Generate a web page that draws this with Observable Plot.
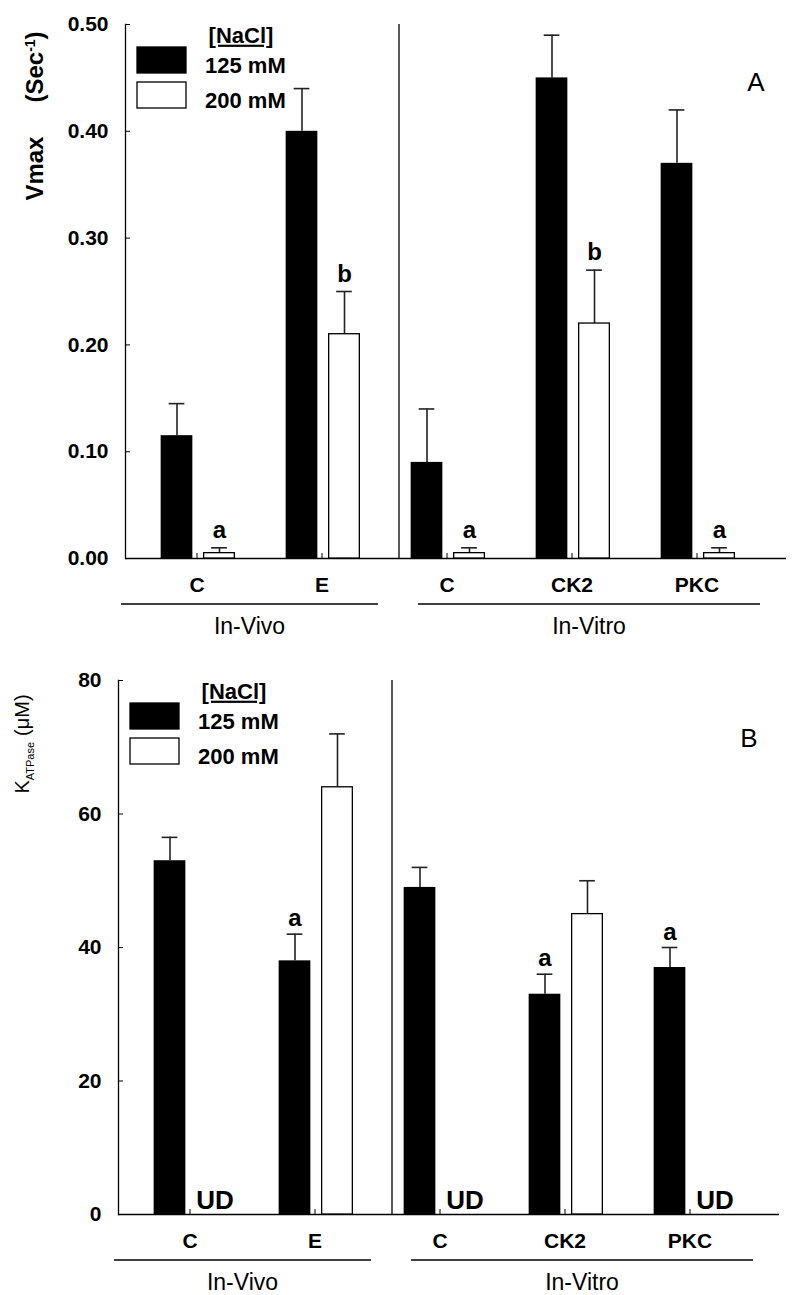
<!DOCTYPE html>
<html>
<head>
<meta charset="utf-8">
<script src="https://cdn.jsdelivr.net/npm/d3@7"></script>
<script src="https://cdn.jsdelivr.net/npm/@observablehq/plot@0.6"></script>
<style>
  html, body { margin: 0; padding: 0; background: #fff; }
  #chart { width: 800px; }
  #chart svg { display: block; }
</style>
</head>
<body>
<div id="chart"></div>
<script>
// ---------- data ----------
const categoryIds    = ["InVivo-C", "InVivo-E", "InVitro-C", "InVitro-CK2", "InVitro-PKC"];
const categoryLabels = ["C", "E", "C", "CK2", "PKC"];
const groupNames     = ["In-Vivo", "In-Vitro"];
const legendTitle    = "[NaCl]";
const legendLabels   = ["125 mM", "200 mM"];

// Panel A: Vmax (Sec-1)
const vmaxTicks     = [0, 0.1, 0.2, 0.3, 0.4, 0.5];
const vmax125       = [0.115, 0.40, 0.09, 0.45, 0.37];
const vmax125Err    = [0.03, 0.04, 0.05, 0.04, 0.05];
const vmax125Marks  = ["", "", "", "", ""];
const vmax200       = [0.005, 0.21, 0.005, 0.22, 0.005];
const vmax200Err    = [0.005, 0.04, 0.005, 0.05, 0.005];
const vmax200Marks  = ["a", "b", "a", "b", "a"];

// Panel B: K ATPase (µM)
const kTicks        = [0, 20, 40, 60, 80];
const k125          = [53, 38, 49, 33, 37];
const k125Err       = [3.5, 4, 3, 3, 3];
const k125Marks     = ["", "a", "", "a", "a"];
const k200          = [null, 64, null, 45, null];
const k200Err       = [null, 8, null, 5, null];
const k200Marks     = ["UD", "", "UD", "", "UD"];

// ---------- helpers ----------
const FONT = "'Liberation Sans', Arial, Helvetica, sans-serif";
const labelOf = new Map(categoryIds.map((id, i) => [id, categoryLabels[i]]));
const rowsOf = (vals, errs, marks) =>
  categoryIds.map((id, i) => ({id, value: vals[i], err: errs[i], mark: marks[i]}));

function panel(cfg) {
  const {height, mt, mb, ml, mr, xRange, yDomain, yTicks, yFormat, rows125, rows200, letter, yLabel} = cfg;
  const band = (xRange[1] - xRange[0]) / categoryIds.length;
  const h = band / 2;
  const blackBar = {insetLeft: h - 36, insetRight: h + 4};
  const whiteBar = {insetLeft: h + 7, insetRight: h - 38};
  const blackCap = {insetLeft: h - 28, insetRight: h + 12};
  const whiteCap = {insetLeft: h + 14.5, insetRight: h - 30.5};
  const bars200 = rows200.filter(d => d.value != null);
  const ud = rows200.filter(d => d.value == null && d.mark);
  const errStyle = {stroke: "#222", strokeWidth: 1.6};

  const chart = Plot.plot({
    width: 800, height,
    marginTop: mt, marginBottom: mb, marginLeft: ml, marginRight: mr,
    style: {fontFamily: FONT, color: "black", background: "white", overflow: "visible"},
    x: {type: "band", domain: categoryIds, range: xRange, padding: 0, axis: null},
    y: {domain: yDomain, axis: null},
    marks: [
      // axes
      Plot.axisY({ticks: yTicks, tickFormat: yFormat, tickSize: 0, tickPadding: 17,
                  fontSize: 21, fontWeight: "bold", label: null}),
      Plot.axisY({ticks: yTicks, tickFormat: () => "", tickSize: 5, dx: 5, label: null}),
      Plot.axisX({tickFormat: id => labelOf.get(id), tickSize: 0, tickPadding: 19,
                  fontSize: 21, fontWeight: "bold", label: null}),
      Plot.axisX({tickFormat: () => "", tickSize: 5, dy: -5, label: null}),
      Plot.frame({anchor: "left", stroke: "black", strokeWidth: 1.3}),
      Plot.ruleY([0], {stroke: "black", strokeWidth: 1.5}),
      // divider between In-Vivo and In-Vitro
      Plot.ruleX([categoryIds[2]], {dx: -48, stroke: "black", strokeWidth: 1.3}),
      // error bars (upper only)
      Plot.ruleX(rows125, {x: "id", y1: "value", y2: d => d.value + d.err, dx: -20, ...errStyle}),
      Plot.tickY(rows125, {x: "id", y: d => d.value + d.err, ...blackCap, ...errStyle}),
      Plot.ruleX(bars200, {x: "id", y1: "value", y2: d => d.value + d.err, dx: 22.5, ...errStyle}),
      Plot.tickY(bars200, {x: "id", y: d => d.value + d.err, ...whiteCap, ...errStyle}),
      // bars
      Plot.barY(rows125, {x: "id", y: "value", fill: "black", ...blackBar}),
      Plot.barY(bars200, {x: "id", y: "value", fill: "white", stroke: "black", strokeWidth: 1.3, ...whiteBar}),
      // significance letters
      Plot.text(rows125.filter(d => d.mark), {x: "id", y: d => d.value + d.err, text: "mark",
        dx: -20, dy: -8, lineAnchor: "bottom", fontSize: 24, fontWeight: "bold"}),
      Plot.text(bars200.filter(d => d.mark), {x: "id", y: d => d.value + d.err, text: "mark",
        dx: 22.5, dy: -10, lineAnchor: "bottom", fontSize: 24, fontWeight: "bold"}),
      Plot.text(ud, {x: "id", y: 0, text: "mark", dx: 25, dy: -6, lineAnchor: "bottom",
        fontSize: 26, fontWeight: "bold"})
    ]
  });

  // decorations: group underlines + labels, legend, panel letter, y label
  const svg = d3.select(chart);
  const base = height - mb;
  const groupSpans = [[ml - 4, ml + 253], [ml + 293, ml + 635]];
  groupNames.forEach((g, i) => {
    const [a, b] = groupSpans[i];
    svg.append("line").attr("x1", a).attr("x2", b).attr("y1", base + 46).attr("y2", base + 46)
      .attr("stroke", "black").attr("stroke-width", 1.6);
    svg.append("text").attr("x", (a + b) / 2).attr("y", base + 68).attr("dy", "0.35em")
      .attr("text-anchor", "middle").attr("font-family", FONT).attr("font-size", 23)
      .text(g);
  });

  const lg = svg.append("g").attr("font-family", FONT).attr("font-weight", "bold")
    .attr("font-size", 22).attr("text-anchor", "start");
  lg.append("text").attr("x", ml + 116).attr("y", mt + 11).attr("dy", "0.35em")
    .attr("text-anchor", "middle").attr("text-decoration", "underline").text(legendTitle);
  [["black", 23, 41], ["white", 58, 76]].forEach(([fill, by, ty], i) => {
    lg.append("rect").attr("x", ml + 12).attr("y", mt + by).attr("width", 49).attr("height", 26)
      .attr("fill", fill).attr("stroke", "black").attr("stroke-width", 1.3);
    lg.append("text").attr("x", ml + 80).attr("y", mt + ty).attr("dy", "0.35em")
      .attr("text-anchor", "start").text(legendLabels[i]);
  });

  svg.append("text").attr("x", 800 - mr - 30).attr("y", mt + 58).attr("dy", "0.35em")
    .attr("text-anchor", "middle").attr("font-family", FONT).attr("font-size", 26).text(letter);

  yLabel(svg);
  return chart;
}

// ---------- panels ----------
const root = document.getElementById("chart");

root.appendChild(panel({
  height: 656, mt: 24, mb: 98, ml: 125, mr: 14, xRange: [133.5, 760],
  yDomain: [0, 0.5], yTicks: vmaxTicks, yFormat: d3.format(".2f"),
  rows125: rowsOf(vmax125, vmax125Err, vmax125Marks),
  rows200: rowsOf(vmax200, vmax200Err, vmax200Marks),
  letter: "A",
  yLabel: svg => {
    const t = svg.append("text").attr("transform", "translate(35,116) rotate(-90)")
      .attr("text-anchor", "middle").attr("dy", "0.35em")
      .attr("font-family", FONT).attr("font-weight", "bold").attr("font-size", 24);
    t.append("tspan").text("Vmax");
    t.append("tspan").attr("dx", 34).text("(Sec");
    t.append("tspan").attr("dy", -8).attr("font-size", 14).text("-1");
    t.append("tspan").attr("dy", 8).text(")");
  }
}));

root.appendChild(panel({
  height: 639, mt: 24, mb: 81, ml: 118, mr: 21, xRange: [126.5, 753],
  yDomain: [0, 80], yTicks: kTicks, yFormat: d3.format("d"),
  rows125: rowsOf(k125, k125Err, k125Marks),
  rows200: rowsOf(k200, k200Err, k200Marks),
  letter: "B",
  yLabel: svg => {
    const t = svg.append("text").attr("transform", "translate(22,88) rotate(-90)")
      .attr("text-anchor", "middle").attr("dy", "0.35em")
      .attr("font-family", FONT).attr("font-size", 20);
    t.append("tspan").text("K");
    t.append("tspan").attr("dy", 5).attr("font-size", 11).text("ATPase");
    t.append("tspan").attr("dy", -5).attr("dx", 6).text("(μM)");
  }
}));
</script>
</body>
</html>
